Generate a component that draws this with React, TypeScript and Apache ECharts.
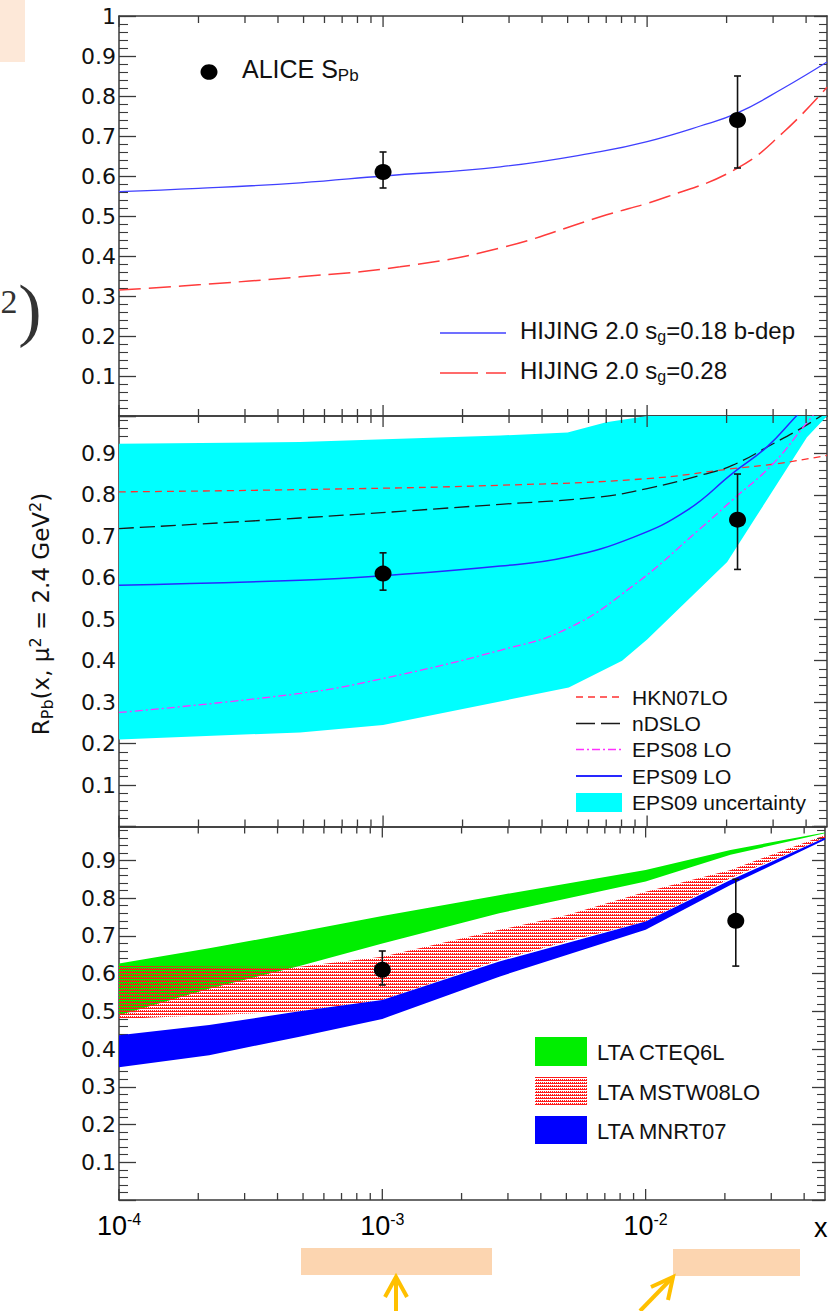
import React, { useEffect, useRef } from "react";
import * as echarts from "echarts";

// ---------- axis ticks ----------
const xMin = 1e-4;
const xMax = 0.048;
const xMajorTicks = [1e-4, 1e-3, 1e-2];
const xMinorTicks = [2e-4, 3e-4, 4e-4, 5e-4, 6e-4, 7e-4, 8e-4, 9e-4, 2e-3, 3e-3, 4e-3, 5e-3, 6e-3, 7e-3, 8e-3, 9e-3, 2e-2, 3e-2, 4e-2];
const yMaxes = [1, 0.99, 0.99];

// ---------- ALICE data ----------
const aliceX = [1e-3, 0.022];
const aliceY = [0.61, 0.74];
const aliceHigh = [0.66, 0.85];
const aliceLow = [0.57, 0.62];

// ---------- panel 1 : HIJING ----------
const hij018X = [1e-4, 2e-4, 4.85e-4, 1e-3, 2.78e-3, 6.65e-3, 1e-2, 1.59e-2, 2.19e-2, 3.29e-2, 4.8e-2];
const hij018Y = [0.561, 0.569, 0.583, 0.6, 0.623, 0.661, 0.686, 0.725, 0.757, 0.82, 0.885];
const hij028X = [1e-4, 2e-4, 4.85e-4, 1.16e-3, 2.78e-3, 6.65e-3, 1.19e-2, 2.19e-2, 3.29e-2, 4.8e-2];
const hij028Y = [0.315, 0.328, 0.348, 0.373, 0.42, 0.498, 0.548, 0.619, 0.71, 0.822];

// ---------- panel 2 : nPDFs ----------
const hknX = [1e-4, 4.85e-4, 2.78e-3, 1e-2, 2.1e-2, 3.1e-2, 4.8e-2];
const hknY = [0.807, 0.8125, 0.823, 0.839, 0.863, 0.875, 0.895];
const ndsX = [1e-4, 4.85e-4, 2.78e-3, 6.65e-3, 1e-2, 1.59e-2, 2.1e-2, 3.0e-2, 4.0e-2, 4.8e-2];
const ndsY = [0.7185, 0.744, 0.777, 0.795, 0.815, 0.847, 0.871, 0.923, 0.9675, 1.0];
const eps08X = [1e-4, 4.85e-4, 1e-3, 2.78e-3, 5e-3, 8.9e-3, 1.59e-2, 2.1e-2, 3.0e-2, 4.0e-2, 4.8e-2];
const eps08Y = [0.275, 0.321, 0.357, 0.425, 0.4775, 0.582, 0.7185, 0.787, 0.875, 0.9715, 1.03];
const eps09X = [1e-4, 4.85e-4, 1e-3, 2.78e-3, 5e-3, 8.9e-3, 1.42e-2, 2.1e-2, 2.84e-2, 3.6e-2, 4.2e-2];
const eps09Y = [0.582, 0.594, 0.605, 0.628, 0.65, 0.698, 0.763, 0.851, 0.915, 0.984, 1.03];
const eps09UpX = [1e-4, 4.85e-4, 2.78e-3, 5e-3, 7e-3, 1e-2, 1.6e-2, 4.8e-2];
const eps09UpY = [0.923, 0.927, 0.943, 0.95, 0.975, 0.99, 1.0, 1.0];
const eps09LoX = [1e-4, 4.85e-4, 1e-3, 5.05e-3, 8.04e-3, 1e-2, 2.01e-2, 2.54e-2, 4.03e-2, 4.8e-2];
const eps09LoY = [0.21, 0.227, 0.245, 0.335, 0.4, 0.451, 0.638, 0.739, 0.939, 0.99];

// ---------- panel 3 : LTA ----------
const ltaX = [1e-4, 2.2e-4, 4.85e-4, 1e-3, 2.78e-3, 1e-2, 2.1e-2, 4.8e-2];
const cteqUp = [0.627, 0.667, 0.711, 0.753, 0.808, 0.875, 0.928, 0.974];
const cteqLo = [0.49, 0.56, 0.62, 0.68, 0.76, 0.844, 0.915, 0.972];
const mnrtUp = [0.437, 0.464, 0.5, 0.53, 0.632, 0.738, 0.848, 0.96];
const mnrtLo = [0.352, 0.384, 0.433, 0.48, 0.592, 0.716, 0.835, 0.955];
const mstwX = [1e-4, 4.85e-4, 1e-3, 2.78e-3, 5e-3, 1e-2, 2.1e-2, 4.8e-2];
const mstwUp = [0.62, 0.618, 0.645, 0.716, 0.755, 0.817, 0.875, 0.967];
const mstwLo = [0.48, 0.5, 0.53, 0.636, 0.685, 0.738, 0.853, 0.96];

const F = "'Liberation Sans', Arial, Helvetica, sans-serif";
const FY = "'DejaVu Sans', 'Liberation Sans', sans-serif";
const FS = "'Liberation Serif', 'DejaVu Serif', serif";
const AX = "#3a3a3a";

const zip = (xs: number[], ys: number[]) => xs.map((x, k) => [x, ys[k]]);

export default function App() {
  const ref = useRef<HTMLDivElement>(null);
  useEffect(() => {
    const chart = echarts.init(ref.current!, null, { renderer: "svg" });

    const cv = document.createElement("canvas");
    cv.width = 2;
    cv.height = 3;
    const cx = cv.getContext("2d")!;
    cx.fillStyle = "#ff1a1a";
    cx.fillRect(0, 0, 2, 1);
    cx.fillRect(0, 2, 1, 1);
    const hatch: any = { image: cv.toDataURL(), repeat: "repeat", imageWidth: 2, imageHeight: 3 };

    const fmtY = (v: number) => {
      if (v < 0.05) return "";
      if (Math.abs(v - 1) < 1e-9) return "1";
      const r = Math.round(v * 10) / 10;
      if (Math.abs(v - r) > 1e-6) return "";
      return r.toFixed(1);
    };
    const fmtX = (v: number) => {
      const l = Math.log10(v);
      const e = Math.round(l);
      if (Math.abs(l - e) > 1e-6) return "";
      return `{b|10}{s|${e}}`;
    };

    const grids = [
      { left: 119, top: 16, width: 708, height: 400 },
      { left: 119, top: 416, width: 708, height: 410.5 },
      { left: 119, top: 826.5, width: 708, height: 373.5 },
    ];

    const xAxes: any[] = [];
    const yAxes: any[] = [];
    [0, 1, 2].forEach((i) => {
      const xb: any = {
        type: "log",
        logBase: 10,
        gridIndex: i,
        min: xMin,
        max: xMax,
        axisLine: { show: true, onZero: false, lineStyle: { color: AX, width: 1.5 } },
        axisTick: { show: false },
        minorTick: { show: false },
        splitLine: { show: false },
        minorSplitLine: { show: false },
      };
      xAxes.push({
        ...xb,
        position: "bottom",
        axisLabel:
          i === 2
            ? {
                show: true,
                margin: 11,
                formatter: fmtX,
                rich: {
                  b: { fontSize: 27, fontFamily: F, color: "#000", lineHeight: 30 },
                  s: { fontSize: 16, fontFamily: F, color: "#000", lineHeight: 16, verticalAlign: "top" },
                },
              }
            : { show: false },
      });
      xAxes.push({ ...xb, position: "top", axisLabel: { show: false } });

      const yb: any = {
        type: "value",
        gridIndex: i,
        min: 0,
        max: yMaxes[i],
        interval: 0.1,
        splitLine: { show: false },
        minorSplitLine: { show: false },
        axisLine: { show: true, onZero: false, lineStyle: { color: AX, width: 1.5 } },
      };
      yAxes.push({
        ...yb,
        position: "left",
        axisTick: { show: true, inside: true, length: 17, lineStyle: { color: AX, width: 1.3 } },
        minorTick: { show: true, splitNumber: 5, length: 9, lineStyle: { color: AX, width: 1.1 } },
        axisLabel: { show: true, margin: 3, fontFamily: FY, fontSize: 22, color: "#111", formatter: fmtY },
      });
      yAxes.push({
        ...yb,
        position: "right",
        axisTick: { show: true, inside: true, length: 13, lineStyle: { color: AX, width: 1.3 } },
        minorTick: { show: true, splitNumber: 5, length: 8, lineStyle: { color: AX, width: 1.1 } },
        axisLabel: { show: false },
      });
    });

    const lineS = (i: number, xs: number[], ys: number[], color: string, width: number, type: any) => ({
      type: "line",
      xAxisIndex: 2 * i,
      yAxisIndex: 2 * i,
      data: zip(xs, ys),
      showSymbol: false,
      symbol: "none",
      smooth: 0.45,
      clip: true,
      silent: true,
      z: 3,
      lineStyle: { color, width, type },
    });

    const bandS = (i: number, upX: number[], upY: number[], loX: number[], loY: number[], fill: any, z: number) => ({
      type: "custom",
      xAxisIndex: 2 * i,
      yAxisIndex: 2 * i,
      clip: true,
      silent: true,
      z,
      data: [[upX[0], upY[0]]],
      renderItem: (params: any, api: any) => {
        const pts = upX.map((x, k) => api.coord([x, upY[k]]));
        for (let k = loX.length - 1; k >= 0; k--) pts.push(api.coord([loX[k], loY[k]]));
        return { type: "polygon", shape: { points: pts }, style: { fill } };
      },
    });

    const tickS = (i: number) => ({
      type: "custom",
      xAxisIndex: 2 * i,
      yAxisIndex: 2 * i,
      clip: false,
      silent: true,
      z: 10,
      data: [...xMajorTicks.map((v) => [v, 1]), ...xMinorTicks.map((v) => [v, 0])],
      renderItem: (params: any, api: any) => {
        const x = api.coord([api.value(0), 0.5])[0];
        const cs = params.coordSys;
        const len = api.value(1) ? 11 : 7;
        const st = { stroke: AX, lineWidth: 1.3 };
        return {
          type: "group",
          children: [
            { type: "line", shape: { x1: x, y1: cs.y + cs.height, x2: x, y2: cs.y + cs.height - len }, style: st },
            { type: "line", shape: { x1: x, y1: cs.y, x2: x, y2: cs.y + len }, style: st },
          ],
        };
      },
    });

    const errS = (i: number) => ({
      type: "custom",
      xAxisIndex: 2 * i,
      yAxisIndex: 2 * i,
      clip: false,
      silent: true,
      z: 5,
      data: aliceX.map((x, k) => [x, aliceY[k], aliceHigh[k], aliceLow[k]]),
      renderItem: (params: any, api: any) => {
        const x = api.value(0);
        const hi = api.coord([x, api.value(2)]);
        const lo = api.coord([x, api.value(3)]);
        const st = { stroke: "#111", lineWidth: 1.6 };
        return {
          type: "group",
          children: [
            { type: "line", shape: { x1: hi[0], y1: hi[1], x2: lo[0], y2: lo[1] }, style: st },
            { type: "line", shape: { x1: hi[0] - 3.5, y1: hi[1], x2: hi[0] + 3.5, y2: hi[1] }, style: st },
            { type: "line", shape: { x1: lo[0] - 3.5, y1: lo[1], x2: lo[0] + 3.5, y2: lo[1] }, style: st },
          ],
        };
      },
    });

    const dotS = (i: number) => ({
      type: "scatter",
      xAxisIndex: 2 * i,
      yAxisIndex: 2 * i,
      data: zip(aliceX, aliceY),
      symbol: "circle",
      symbolSize: [17, 16],
      itemStyle: { color: "#000", opacity: 1 },
      silent: true,
      z: 6,
    });

    const series: any[] = [
      // panel 1
      lineS(0, hij018X, hij018Y, "#4040ff", 1.3, "solid"),
      lineS(0, hij028X, hij028Y, "#ff3b3b", 1.5, [22, 8]),
      errS(0),
      dotS(0),
      tickS(0),
      // panel 2
      bandS(1, eps09UpX, eps09UpY, eps09LoX, eps09LoY, "#00ffff", 1),
      lineS(1, hknX, hknY, "#ff3030", 1.3, [7, 5]),
      lineS(1, ndsX, ndsY, "#1a1a1a", 1.3, [15, 6]),
      lineS(1, eps08X, eps08Y, "#ff30ff", 1.3, [8, 3, 2, 3]),
      lineS(1, eps09X, eps09Y, "#2828ff", 1.5, "solid"),
      errS(1),
      dotS(1),
      tickS(1),
      // panel 3
      bandS(2, ltaX, cteqUp, ltaX, cteqLo, "#00ee00", 1),
      bandS(2, mstwX, mstwUp, mstwX, mstwLo, hatch, 2),
      bandS(2, ltaX, mnrtUp, ltaX, mnrtLo, "#0000ff", 2),
      errS(2),
      dotS(2),
      tickS(2),
    ];

    const txt = (x: number, y: number, text: string, size: number, extra: any = {}) => ({
      type: "text",
      x,
      y,
      z: 20,
      silent: true,
      style: { text, fontSize: size, fontFamily: F, fill: "#111", align: "left", verticalAlign: "middle", ...extra },
    });
    const richSub = (size: number, lh: number) => ({
      a: { fontSize: size, fontFamily: F, fill: "#111", lineHeight: lh },
      s: { fontSize: Math.round(size * 0.68), fontFamily: F, fill: "#111", lineHeight: Math.round(lh * 0.5), verticalAlign: "bottom" },
      u: { fontSize: Math.round(size * 0.68), fontFamily: F, fill: "#111", lineHeight: Math.round(lh * 0.5), verticalAlign: "top" },
    });
    const legLine = (x1: number, x2: number, y: number, stroke: string, lineDash: any, lw = 1.5) => ({
      type: "line",
      z: 20,
      silent: true,
      shape: { x1, y1: y, x2, y2: y },
      style: { stroke, lineWidth: lw, lineDash },
    });

    const graphic: any[] = [
      // peach highlight boxes
      { type: "rect", z: 0, silent: true, shape: { x: 0, y: 0, width: 25, height: 62 }, style: { fill: "#fde8d8" } },
      { type: "rect", z: 0, silent: true, shape: { x: 301, y: 1248, width: 191, height: 27 }, style: { fill: "#fcd5b0" } },
      { type: "rect", z: 0, silent: true, shape: { x: 673, y: 1249, width: 127, height: 27 }, style: { fill: "#fcd5b0" } },
      // fragment of a formula on the left
      { type: "text", x: 9, y: 301, silent: true, style: { text: "2", fontSize: 34, fontFamily: FS, fill: "#333", align: "center", verticalAlign: "middle" } },
      { type: "text", x: 30, y: 309, silent: true, style: { text: ")", fontSize: 70, fontFamily: FS, fill: "#333", align: "center", verticalAlign: "middle" } },
      // ALICE legend
      { type: "ellipse", z: 20, silent: true, shape: { cx: 209, cy: 72, rx: 8.5, ry: 7.8 }, style: { fill: "#000" } },
      txt(242, 69, "{a|ALICE S}{s|Pb}", 25, { rich: richSub(25, 30) }),
      // HIJING legend
      legLine(440, 506, 333, "#4040ff", null, 1.4),
      txt(520, 330, "{a|HIJING 2.0 s}{s|g}{a|=0.18 b-dep}", 24, { rich: richSub(24, 28) }),
      legLine(440, 506, 373, "#ff3b3b", [38, 8], 1.5),
      txt(520, 370, "{a|HIJING 2.0 s}{s|g}{a|=0.28}", 24, { rich: richSub(24, 28) }),
      // nPDF legend
      legLine(576, 622, 697, "#ff3030", [7, 5]),
      txt(632, 697, "HKN07LO", 21),
      legLine(576, 622, 723.5, "#1a1a1a", [19, 6]),
      txt(632, 723.5, "nDSLO", 21),
      legLine(576, 622, 749.5, "#ff30ff", [8, 3, 2, 3]),
      txt(632, 749.5, "EPS08 LO", 21),
      legLine(576, 622, 776, "#2828ff", null, 1.8),
      txt(632, 776, "EPS09 LO", 21),
      { type: "rect", z: 20, silent: true, shape: { x: 576, y: 793, width: 46, height: 19 }, style: { fill: "#00ffff" } },
      txt(632, 802, "EPS09 uncertainty", 21),
      // LTA legend
      { type: "rect", z: 20, silent: true, shape: { x: 535, y: 1037, width: 52, height: 29 }, style: { fill: "#00ee00" } },
      txt(597, 1052, "LTA CTEQ6L", 22),
      { type: "rect", z: 20, silent: true, shape: { x: 535, y: 1077, width: 52, height: 28 }, style: { fill: hatch } },
      txt(597, 1092, "LTA MSTW08LO", 22),
      { type: "rect", z: 20, silent: true, shape: { x: 535, y: 1116, width: 52, height: 28 }, style: { fill: "#0000ff" } },
      txt(597, 1131, "LTA MNRT07", 22),
      // y-axis title
      {
        type: "text",
        x: 41,
        y: 614,
        rotation: Math.PI / 2,
        silent: true,
        z: 20,
        style: {
          text: "{a|R}{s|Pb}{a|(x, μ}{u|2}{a| = 2.4 GeV}{u|2}{a|)}",
          rich: {
            a: { fontSize: 23, fontFamily: FY, fill: "#111", lineHeight: 28 },
            s: { fontSize: 16, fontFamily: FY, fill: "#111", lineHeight: 14, verticalAlign: "bottom" },
            u: { fontSize: 16, fontFamily: FY, fill: "#111", lineHeight: 14, verticalAlign: "top" },
          },
          fontSize: 23,
          fontFamily: FY,
          align: "center",
          verticalAlign: "middle",
        },
      },
      // x axis name
      txt(814, 1228, "x", 27, { fill: "#000" }),
      // arrows
      { type: "polyline", z: 20, silent: true, shape: { points: [[396, 1311], [396, 1278]] }, style: { stroke: "#ffc000", lineWidth: 4, fill: null } },
      { type: "polyline", z: 20, silent: true, shape: { points: [[385, 1297], [396, 1277], [407, 1297]] }, style: { stroke: "#ffc000", lineWidth: 4, fill: null } },
      { type: "polyline", z: 20, silent: true, shape: { points: [[640, 1311], [672, 1278]] }, style: { stroke: "#ffc000", lineWidth: 4, fill: null } },
      { type: "polyline", z: 20, silent: true, shape: { points: [[651, 1287], [673, 1277], [668, 1300]] }, style: { stroke: "#ffc000", lineWidth: 4, fill: null } },
    ];

    chart.setOption({
      animation: false,
      backgroundColor: "#ffffff",
      grid: grids,
      xAxis: xAxes,
      yAxis: yAxes,
      series,
      graphic: { elements: graphic },
    });
    return () => chart.dispose();
  }, []);
  return <div ref={ref} style={{ position: "absolute", left: 0, top: 0, width: 828, height: 1311 }} />;
}
